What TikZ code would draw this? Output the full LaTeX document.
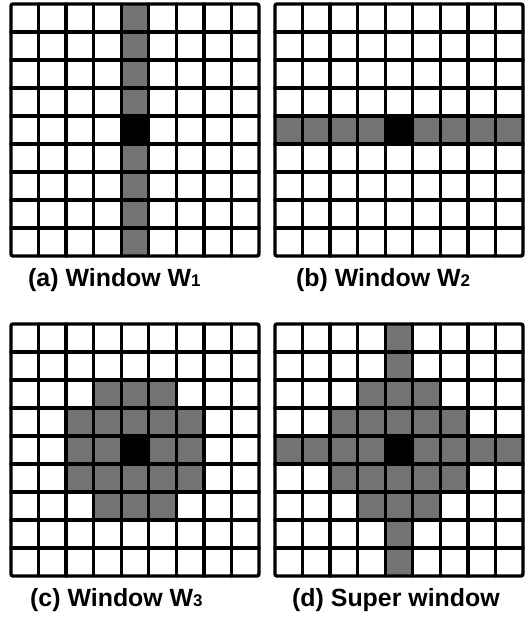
\documentclass[tikz,border=0pt]{standalone}
\usepackage{fontspec}
\setmainfont{Liberation Sans}
\begin{document}
\begin{tikzpicture}[x=1bp,y=-1bp,
  gridline/.style={line width=3.4bp,line cap=round,line join=round},
  shade/.style={fill=black!55},
  centre/.style={fill=black},
  lbl/.style={anchor=base west,inner sep=0pt,font=\bfseries\fontsize{25}{28}\selectfont}]
\useasboundingbox (0,0) rectangle (529,623);
\newcommand{\cw}{27.55}
\newcommand{\ch}{28}
% helper to fill cell (col,row) of a grid with origin (ox,oy)
\newcommand{\cellfill}[5]{\fill[#5] ({#1+#3*\cw},{#2+#4*\ch}) rectangle ++(\cw,\ch);}
\newcommand{\gridat}[2]{%
  \foreach \i in {1,...,8}{\draw[gridline] ({#1+\i*\cw},#2) -- ++(0,{9*\ch});
                            \draw[gridline] (#1,{#2+\i*\ch}) -- ++({9*\cw},0);}
  \draw[gridline,rounded corners=2bp] (#1,#2) rectangle ++({9*\cw},{9*\ch});}
% (a) W1
\foreach \r in {0,...,8}{\cellfill{11}{4}{4}{\r}{shade}}
\cellfill{11}{4}{4}{4}{centre}
\gridat{11}{4}
% (b) W2
\foreach \c in {0,...,8}{\cellfill{275}{4}{\c}{4}{shade}}
\cellfill{275}{4}{4}{4}{centre}
\gridat{275}{4}
% (c) W3
\foreach \c in {3,4,5}{\cellfill{11}{324}{\c}{2}{shade}\cellfill{11}{324}{\c}{6}{shade}}
\foreach \r in {3,4,5}{\foreach \c in {2,...,6}{\cellfill{11}{324}{\c}{\r}{shade}}}
\cellfill{11}{324}{4}{4}{centre}
\gridat{11}{324}
% (d) Super window
\foreach \r in {0,...,8}{\cellfill{275}{324}{4}{\r}{shade}}
\foreach \c in {0,...,8}{\cellfill{275}{324}{\c}{4}{shade}}
\foreach \c in {3,4,5}{\cellfill{275}{324}{\c}{2}{shade}\cellfill{275}{324}{\c}{6}{shade}}
\foreach \r in {3,4,5}{\foreach \c in {2,...,6}{\cellfill{275}{324}{\c}{\r}{shade}}}
\cellfill{275}{324}{4}{4}{centre}
\gridat{275}{324}
% labels
\node[lbl] (la) at (28,286) {(a) Window W{\fontsize{17}{17}\selectfont 1}};
\node[lbl] (lb) at (296,286) {(b) Window W{\fontsize{17}{17}\selectfont 2}};
\node[lbl] (lc) at (30,606) {(c) Window W{\fontsize{17}{17}\selectfont 3}};
\node[lbl] (ld) at (292,606) {(d) Super window};
\end{tikzpicture}
\end{document}
